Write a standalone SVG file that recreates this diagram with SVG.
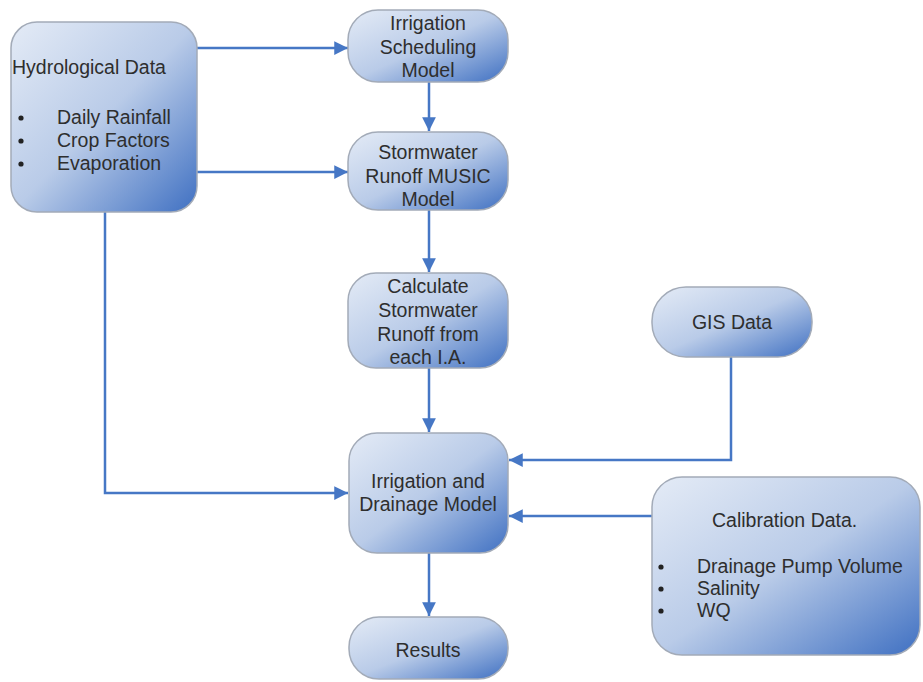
<svg xmlns="http://www.w3.org/2000/svg" width="923" height="682" viewBox="0 0 923 682">
<defs>
<linearGradient id="g" x1="0" y1="0" x2="1" y2="1">
<stop offset="0" stop-color="#e4ebf6"/>
<stop offset="0.5" stop-color="#b9cbe8"/>
<stop offset="1" stop-color="#3f70c2"/>
</linearGradient>
<marker id="ah" viewBox="0 0 10 10" refX="10" refY="5" markerWidth="5.5" markerHeight="5.5" orient="auto" markerUnits="strokeWidth">
<path d="M0,0 L10,5 L0,10 z" fill="#4677c5"/>
</marker>
<style>
.n{fill:url(#g);stroke:#a3abb8;stroke-width:1.5}
.t{font-family:"Liberation Sans",Arial,sans-serif;font-size:19.5px;fill:#2e2e2e;text-anchor:middle}
.l{font-family:"Liberation Sans",Arial,sans-serif;font-size:19.5px;fill:#2e2e2e}
.c{fill:none;stroke:#4677c5;stroke-width:2.5;marker-end:url(#ah)}
</style>
</defs>
<rect width="923" height="682" fill="#fff"/>
<g id="connectors">
<path class="c" d="M197,48 L348,48"/>
<path class="c" d="M197,172 L348,172"/>
<path class="c" d="M429,82 L429,131"/>
<path class="c" d="M429,210 L429,272"/>
<path class="c" d="M429,368 L429,432"/>
<path class="c" d="M105,212 L105,493 L348,493"/>
<path class="c" d="M731,357 L731,460 L509,460"/>
<path class="c" d="M652,516 L509,516"/>
<path class="c" d="M429,553 L429,616"/>
</g>
<g id="hydro">
<rect class="n" x="11" y="22" width="186" height="190" rx="26"/>
<text class="l" x="12" y="74">Hydrological Data</text>
<circle cx="21" cy="118" r="2.6" fill="#222"/>
<circle cx="21" cy="141" r="2.6" fill="#222"/>
<circle cx="21" cy="164" r="2.6" fill="#222"/>
<text class="l" x="57" y="124">Daily Rainfall</text>
<text class="l" x="57" y="147">Crop Factors</text>
<text class="l" x="57" y="170">Evaporation</text>
</g>
<g id="sched">
<rect class="n" x="348" y="10" width="160" height="72" rx="30"/>
<text class="t" x="428" y="30">Irrigation</text>
<text class="t" x="428" y="54">Scheduling</text>
<text class="t" x="428" y="77">Model</text>
</g>
<g id="music">
<rect class="n" x="348" y="132" width="160" height="78" rx="30"/>
<text class="t" x="428" y="159">Stormwater</text>
<text class="t" x="428" y="183">Runoff MUSIC</text>
<text class="t" x="428" y="206">Model</text>
</g>
<g id="calc">
<rect class="n" x="348" y="273" width="160" height="95" rx="28"/>
<text class="t" x="428" y="293">Calculate</text>
<text class="t" x="428" y="317">Stormwater</text>
<text class="t" x="428" y="341">Runoff from</text>
<text class="t" x="428" y="364">each I.A.</text>
</g>
<g id="gis">
<rect class="n" x="652" y="287" width="160" height="70" rx="34"/>
<text class="t" x="732" y="329">GIS Data</text>
</g>
<g id="model">
<rect class="n" x="349" y="433" width="159" height="120" rx="28"/>
<text class="t" x="428" y="488">Irrigation and</text>
<text class="t" x="428" y="511">Drainage Model</text>
</g>
<g id="calib">
<rect class="n" x="652" y="477" width="268" height="178" rx="30"/>
<text class="l" x="712" y="527">Calibration Data.</text>
<circle cx="661" cy="567" r="2.6" fill="#222"/>
<circle cx="661" cy="589" r="2.6" fill="#222"/>
<circle cx="661" cy="611" r="2.6" fill="#222"/>
<text class="l" x="697" y="573">Drainage Pump Volume</text>
<text class="l" x="697" y="595">Salinity</text>
<text class="l" x="697" y="617">WQ</text>
</g>
<g id="results">
<rect class="n" x="349" y="617" width="159" height="62" rx="30"/>
<text class="t" x="428" y="657">Results</text>
</g>
</svg>
